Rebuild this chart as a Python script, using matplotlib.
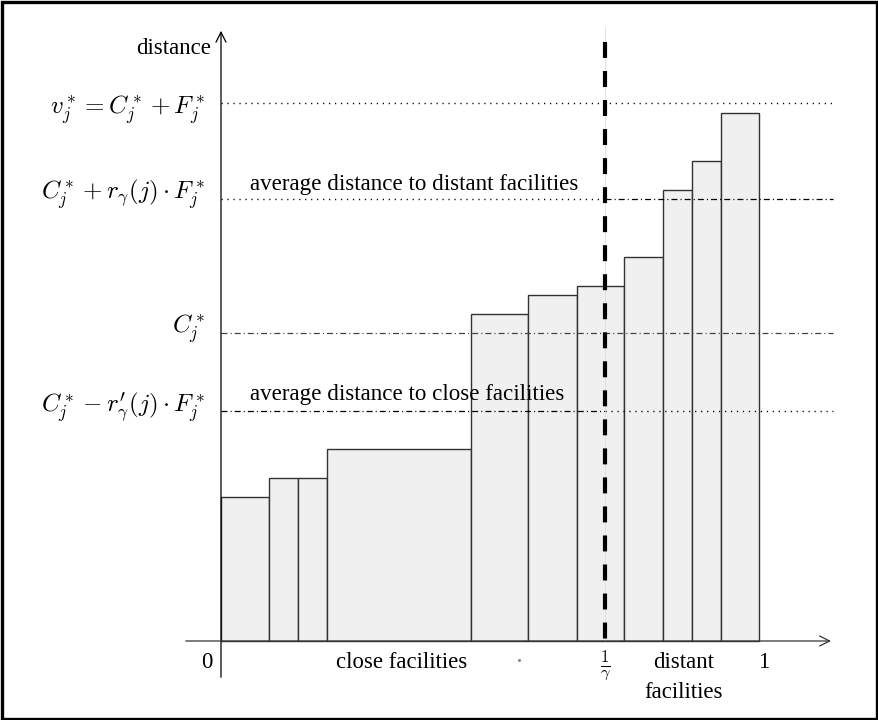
import numpy as np
import matplotlib
matplotlib.use("Agg")
import matplotlib.pyplot as plt
from matplotlib.patches import Rectangle

plt.rcParams['font.family'] = ['Liberation Serif', 'DejaVu Serif']
plt.rcParams['mathtext.fontset'] = 'cm'
plt.rcParams['lines.scale_dashes'] = False

# facility bars: x edges (fraction of demand) and distances
bar_edges = [0, 0.089, 0.143, 0.197, 0.465, 0.571, 0.662, 0.749, 0.822, 0.875, 0.929, 1.0]
bar_heights = [1.44, 1.63, 1.63, 1.92, 3.27, 3.46, 3.55, 3.84, 4.51, 4.80, 5.28]

# reference distance levels
v_star = 5.38
c_plus = 4.42
c_star = 3.08
c_minus = 2.30
gamma_inv = 0.714

level_labels = [r'$v_j^* = C_j^* + F_j^*$',
                r'$C_j^* + r_\gamma(j)\cdot F_j^*$',
                r'$C_j^*$',
                r'$C_j^* - r^{\prime}_\gamma(j)\cdot F_j^*$']
label_y = [5.31, 4.47, 3.12, 2.34]

fig = plt.figure(figsize=(8.79, 7.2), dpi=100)
ax = fig.add_axes([0, 0, 1, 1])
ax.set_xlim(-221 / 538, (879 - 221) / 538)
ax.set_ylim(-0.79, 6.41)
ax.axis('off')

# outer frame
fig.patches.append(Rectangle((0.002, 0.002), 0.996, 0.995, transform=fig.transFigure,
                             fill=False, edgecolor='black', linewidth=2.4))

edges = np.array(bar_edges)
ax.bar(edges[:-1], bar_heights, width=np.diff(edges), align='edge',
       color='#f0f0f0', edgecolor='#333333', linewidth=1.0, zorder=2)

x_end = 1.1375
dot = (0, (0.9, 3.4))
dashdot = (0, (4.3, 2.2, 0.8, 2.2))
ax.plot([0, x_end], [v_star, v_star], color='black', lw=1.0, linestyle=dot, zorder=3)
ax.plot([0, gamma_inv], [c_plus, c_plus], color='black', lw=1.0, linestyle=dot, zorder=3)
ax.plot([gamma_inv, x_end], [c_plus, c_plus], color='black', lw=0.9, linestyle=dashdot, zorder=3)
ax.plot([0, x_end], [c_star, c_star], color='#444444', lw=0.9, linestyle=dashdot, zorder=3)
ax.plot([0, gamma_inv], [c_minus, c_minus], color='black', lw=0.9, linestyle=dashdot, zorder=3)
ax.plot([gamma_inv, x_end], [c_minus, c_minus], color='black', lw=1.0, linestyle=dot, zorder=3)

# 1/gamma threshold
ax.plot([gamma_inv, gamma_inv], [0, 6.14], color='#dddddd', lw=0.6, zorder=3)
ax.plot([gamma_inv, gamma_inv], [5.99, 0], color='black', lw=3.0,
        linestyle=(0, (11.5, 9.4)), zorder=4)

# axes with arrows
ax.annotate('', xy=(0, 6.13), xytext=(0, -0.39),
            arrowprops=dict(arrowstyle='->', lw=0.9, color='black', mutation_scale=18))
ax.annotate('', xy=(1.139, 0), xytext=(-0.0706, 0),
            arrowprops=dict(arrowstyle='->', lw=0.9, color='#333333', mutation_scale=18))

fs = 16.4
ax.text(-0.0186, 5.92, 'distance', ha='right', va='center', fontsize=fs)
for ly, lab in zip(label_y, level_labels):
    ax.text(-0.028, ly, lab, ha='right', va='center', fontsize=18)

ax.text(0.054, 4.51, 'average distance to distant facilities', ha='left', va='baseline', fontsize=16.6)
ax.text(0.054, 2.41, 'average distance to close facilities', ha='left', va='baseline', fontsize=16.6)

ax.text(-0.026, -0.22, '0', ha='center', va='center', fontsize=fs)
ax.text(0.336, -0.22, 'close facilities', ha='center', va='center', fontsize=fs)
ax.plot([0.554], [-0.19], marker='o', markersize=1.2, color='#888888')
ax.text(gamma_inv, -0.24, r'$\frac{1}{\gamma}$', ha='center', va='center', fontsize=17)
ax.text(0.859, -0.22, 'distant', ha='center', va='center', fontsize=fs)
ax.text(0.859, -0.51, 'facilities', ha='center', va='center', fontsize=fs)
ax.text(1.009, -0.22, '1', ha='center', va='center', fontsize=fs)

fig.savefig('out.png', dpi=100)
